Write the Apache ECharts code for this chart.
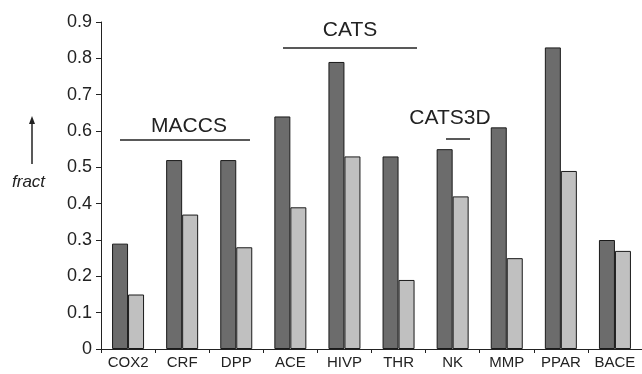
<!DOCTYPE html>
<html>
<head>
<meta charset="utf-8">
<script src="https://cdn.jsdelivr.net/npm/echarts@6/dist/echarts.min.js"></script>
<style>html,body{margin:0;padding:0;background:#fff}#c{width:642px;height:374px}</style>
</head>
<body>
<div id="c"></div>
<script>
const categories = ['COX2','CRF','DPP','ACE','HIVP','THR','NK','MMP','PPAR','BACE'];
const darkValues = [0.29,0.52,0.52,0.64,0.79,0.53,0.55,0.61,0.83,0.30];
const lightValues = [0.15,0.37,0.28,0.39,0.53,0.19,0.42,0.25,0.49,0.27];
const yTicks = [0,0.1,0.2,0.3,0.4,0.5,0.6,0.7,0.8,0.9];

const chart = echarts.init(document.getElementById('c'), null, {renderer:'canvas'});
const font = 'Liberation Sans, Arial, sans-serif';
chart.setOption({
  animation:false,
  backgroundColor:'#fff',
  grid:{left:101, right:-8, top:22, bottom:25},
  xAxis:{
    type:'category', data:categories,
    axisLine:{lineStyle:{color:'#222',width:1}},
    axisTick:{show:true, alignWithLabel:false, length:4, lineStyle:{color:'#222'}},
    axisLabel:{color:'#222', fontSize:15, fontFamily:font, margin:6, interval:0},
    splitLine:{show:false}
  },
  yAxis:{
    type:'value', min:0, max:0.9, interval:0.1,
    axisLine:{show:true, lineStyle:{color:'#222',width:1}},
    axisTick:{show:true, length:5, lineStyle:{color:'#222'}},
    axisLabel:{color:'#222', fontSize:18, fontFamily:font, margin:9,
      formatter:function(v){ const t = yTicks.find(x=>Math.abs(x-v)<1e-6); return t===0?'0':String(t); }},
    splitLine:{show:false}
  },
  series:[
    {type:'bar', data:darkValues, barWidth:16, barGap:'0%',
      itemStyle:{color:'#6c6c6c', borderColor:'#1a1a1a', borderWidth:1}},
    {type:'bar', data:lightValues, barWidth:16, barGap:'0%',
      itemStyle:{color:'#c0c0c0', borderColor:'#1a1a1a', borderWidth:1}}
  ],
  graphic:[
    {type:'text', left:12, top:174, style:{text:'fract', font:'italic 17px '+font, fill:'#222'}},
    {type:'line', shape:{x1:32,y1:164,x2:32,y2:122}, style:{stroke:'#222', lineWidth:1.5}},
    {type:'polygon', shape:{points:[[32,116],[29,124],[35,124]]}, style:{fill:'#222'}},
    {type:'line', shape:{x1:120,y1:140,x2:250,y2:140}, style:{stroke:'#222', lineWidth:1.5}},
    {type:'text', x:189, y:126, style:{text:'MACCS', font:'21px '+font, fill:'#222', align:'center', verticalAlign:'middle'}},
    {type:'line', shape:{x1:283,y1:48,x2:417,y2:48}, style:{stroke:'#222', lineWidth:1.5}},
    {type:'text', x:350, y:30, style:{text:'CATS', font:'21px '+font, fill:'#222', align:'center', verticalAlign:'middle'}},
    {type:'line', shape:{x1:446,y1:139,x2:470,y2:139}, style:{stroke:'#222', lineWidth:1.5}},
    {type:'text', x:450, y:118, style:{text:'CATS3D', font:'21px '+font, fill:'#222', align:'center', verticalAlign:'middle'}}
  ]
});
</script>
</body>
</html>
